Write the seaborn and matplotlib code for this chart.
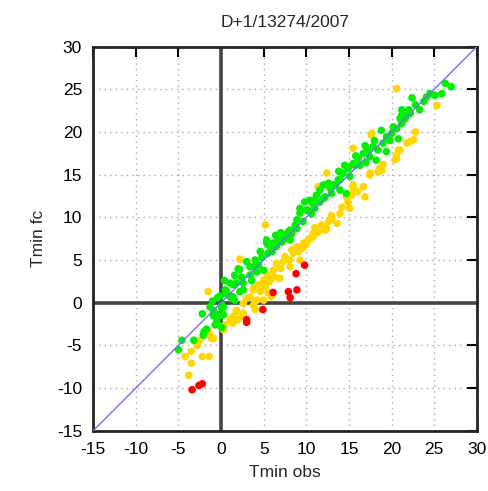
import pandas as pd
import matplotlib
matplotlib.use("Agg")
import matplotlib.pyplot as plt
import seaborn as sns

# %% DATA
green_obs = [-5.0, -4.6, -3.2, -2.0, -0.7, -2.2, -1.3, -0.5, 0.3, 0.1, -0.1, 0.7, 1.25,
             -2.1, -1.7, 0.1, -0.5, -0.9, 0.1, 1.4, 2.6, 1.8, 1.05, 0.65, 3.4, 2.0,
             0.5, 1.45, 2.2, 2.6, 3.4, 3.8, 4.4, 5.0, 2.2, 5.5, 6.0, 6.5, 7.1, 7.7, 8.3, 8.9,
             5.35, 5.75, 4.8, -0.9, -0.3, 0.3, 1.6, 1.05,
             12.6, 11.6, 10.8, 12.0, 10.2, 9.25, 8.9, 9.6, 8.1, 7.5, 6.7, 6.1, 5.35, 4.0,
             15.7, 14.9, 14.3, 15.1, 13.95, 13.4, 12.8, 12.95, 12.2, 11.6, 10.8, 10.4, 11.0,
             10.0, 9.25, 8.7, 7.9, 7.3, 6.1, 5.55, 8.1, 13.8,
             22.2, 21.6, 21.2, 20.6, 20.0, 19.4, 18.8, 19.0, 18.4, 17.85, 17.45, 16.7, 16.1,
             15.5, 16.3, 14.9, 13.75, 13.2, 12.8, 13.95, 14.7, 18.2, 19.4, 21.2,
             26.3, 27.0, 25.9, 25.1, 24.5, 24.1, 23.3, 22.4, 22.0, 21.2, 21.8, 21.0, 20.2,
             16.9, 17.2, 15.8, 14.5, 19.8, 18.0, 17.0, 12.0, 11.2, 9.8, 10.6, 7.0, 6.4, 4.6,
             3.0, 1.6, 0.4, -1.0, -0.4, 2.4, 3.6, 4.2, 20.8, 23.8, 22.8]
green_fc = [-5.5, -4.4, -4.4, -3.4, -2.6, -1.3, -0.5, -1.4, -1.4, -0.3, 0.8, 1.0, 0.5,
            -3.8, -3.1, -2.9, -2.2, -1.55, -0.65, 0.7, 1.5, 2.3, 2.3, 1.3, 4.2, 3.95,
            1.5, 2.1, 1.3, 2.3, 3.25, 4.2, 4.4, 3.8, 3.9, 5.8, 6.0, 6.6, 7.1, 7.5, 8.1, 8.7,
            7.0, 6.6, 5.3, -0.9, -1.6, -0.5, 0.3, 0.7,
            14.0, 13.2, 12.0, 12.2, 10.85, 10.5, 9.7, 9.5, 8.5, 7.9, 7.35, 6.75, 7.35, 5.0,
            16.1, 15.9, 15.15, 14.8, 14.4, 13.8, 13.6, 12.8, 12.4, 11.8, 11.6, 12.0, 11.05,
            10.85, 11.05, 9.1, 8.3, 7.7, 7.0, 6.8, 7.35, 15.4,
            22.2, 21.6, 21.0, 20.4, 19.85, 19.45, 20.2, 18.7, 17.9, 18.3, 17.1, 17.5, 16.9,
            16.3, 16.1, 15.7, 14.4, 13.8, 13.4, 13.2, 12.8, 16.7, 17.7, 22.0,
            25.7, 25.3, 24.5, 24.3, 24.5, 24.1, 22.6, 24.0, 22.6, 22.6, 22.0, 21.6, 20.6,
            18.4, 17.9, 17.2, 16.1, 19.0, 19.0, 16.4, 13.8, 12.6, 11.8, 10.4, 8.2, 7.9, 6.0,
            4.8, 3.2, 2.6, 0.2, 0.6, 3.0, 2.6, 3.6, 19.2, 23.6, 23.2]

yellow_obs = [-1.5, -2.5, -1.5, -1.1, -0.1, 1.05, 1.4, -4.2, -3.5, -3.5, -2.2, -1.4, -3.8,
              2.2, 1.8, 2.6, 3.95, 3.8, -1.3, -0.9,
              5.2, 6.5, 7.3, 7.5, 8.1, 6.1, 5.5, 6.3, 5.0, 5.7, 4.4, 5.2, 3.8, 4.6, 3.4, 4.2,
              5.0, 5.9, 2.6, 3.8, 1.8, 2.6, 1.45, 6.9,
              11.4, 12.4, 12.6, 12.2, 10.8, 10.4, 10.0, 9.6, 9.1, 8.5, 9.25,
              14.7, 14.9, 15.1, 13.95, 12.95, 13.6, 12.4, 11.8, 11.4, 10.8, 10.2, 9.65, 8.9,
              8.3, 9.45,
              15.5, 17.6, 22.2, 21.8, 20.8, 20.6, 20.4, 18.6, 18.4, 17.45, 15.5, 16.7, 15.3, 16.9,
              20.6, 25.3, 22.8, 22.6,
              17.7, 20.6, 21.0, 18.85, 17.5, 15.5,
              0.3, 2.0, 3.0, 4.0, 5.5, 7.0, 8.0, 11.0, 13.0, 14.2, 16.0, 19.0, -2.8, 0.5]
yellow_fc = [1.3, -4.4, -3.4, -4.2, -2.8, -2.0, -2.4, -6.3, -5.7, -7.1, -6.3, -6.3, -8.5,
             5.1, -1.05, -1.6, 0.1, 1.7, -3.8, -4.2,
             9.1, 4.6, 4.8, 5.4, 4.2, 3.8, 3.2, 3.0, 2.65, 2.5, 2.1, 1.9, 1.5, 1.3, 0.7, 0.3,
             0.3, 0.7, -0.1, -0.3, -0.9, -1.25, -1.6, 2.85,
             13.6, 15.2, 9.5, 8.5, 8.1, 7.5, 6.9, 6.4, 6.0, 5.8, 5.0,
             12.4, 11.8, 11.05, 10.45, 10.2, 9.3, 8.7, 9.1, 8.3, 7.7, 7.35, 6.95, 6.55,
             6.2, 6.4,
             18.1, 19.65, 18.9, 18.7, 17.9, 17.3, 16.75, 15.75, 15.35, 14.95, 13.8, 13.6, 12.6, 12.4,
             25.1, 23.1, 20.0, 19.1,
             19.85, 16.9, 17.9, 15.5, 15.2, 13.4,
             -3.2, -2.0, 0.5, -0.8, 1.2, 4.0, 5.0, 8.8, 9.8, 11.2, 13.0, 16.2, -5.0, -2.6]

red_obs = [-3.4, -2.6, -2.2, 3.0, 3.0, 4.9, 6.1, 7.9, 8.1, 8.9, 8.8, 9.8]
red_fc = [-10.2, -9.7, -9.5, -2.3, -2.0, -0.8, 1.2, 1.3, 0.6, 1.5, 3.4, 4.4]

ticks = list(range(-15, 31, 5))

df = pd.concat([
    pd.DataFrame({'obs': yellow_obs, 'fc': yellow_fc, 'cls': 'y'}),
    pd.DataFrame({'obs': green_obs, 'fc': green_fc, 'cls': 'g'}),
    pd.DataFrame({'obs': red_obs, 'fc': red_fc, 'cls': 'r'}),
], ignore_index=True)

# %% PLOT
sns.set_style('white')
plt.rcParams['font.family'] = ['Liberation Sans', 'DejaVu Sans']
plt.rcParams['axes.unicode_minus'] = False

fig = plt.figure(figsize=(4.88, 4.91), dpi=100)
ax = fig.add_axes([0.191, 0.1228, 0.786, 0.7821])

ax.grid(True, color='#a8a8a8', linestyle=(0, (1, 3)), linewidth=1.0)
ax.axhline(0, color='#444444', linewidth=2.6, zorder=1)
ax.axvline(0, color='#444444', linewidth=2.6, zorder=1)

sns.scatterplot(
    data=df, x='obs', y='fc', hue='cls',
    palette={'y': '#ffd700', 'g': '#00f000', 'r': '#ff0000'},
    s=30, linewidth=0, legend=False, ax=ax, zorder=3
)
ax.axline((0, 0), slope=1, color='#7070ff', linewidth=1, zorder=4)

ax.set_xlim(-15, 30)
ax.set_ylim(-15, 30)
ax.set_xticks(ticks)
ax.set_yticks(ticks)
ax.tick_params(direction='in', length=7, width=1.5, top=True, right=True,
               labelsize=12.5, pad=8, colors='black')
for sp in ax.spines.values():
    sp.set_linewidth(2)
    sp.set_color('#222222')

ax.set_xlabel('Tmin obs', fontsize=12.5, labelpad=6)
ax.set_ylabel('Tmin fc', fontsize=12.5, labelpad=8)
ax.set_title('D+1/13274/2007', fontsize=12.5, pad=14)

fig.savefig('out.png', dpi=100)
